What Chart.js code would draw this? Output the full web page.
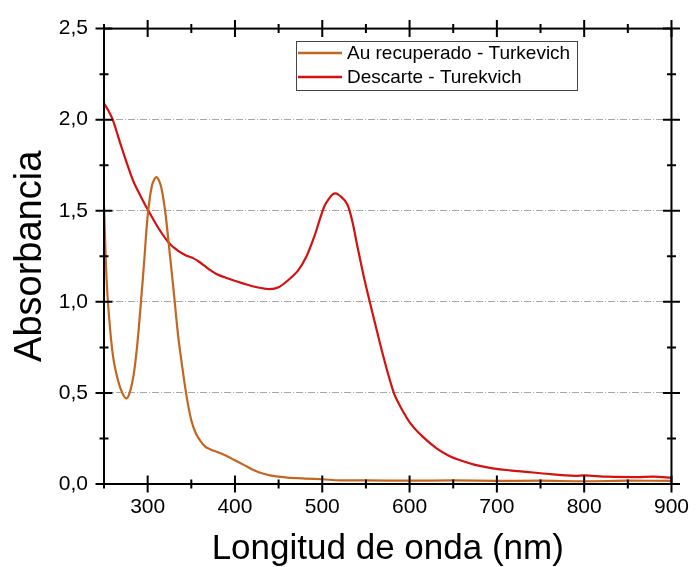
<!DOCTYPE html>
<html>
<head>
<meta charset="utf-8">
<script src="https://cdn.jsdelivr.net/npm/chart.js@4.4.1/dist/chart.umd.min.js"></script>
<style>
  html, body { margin: 0; padding: 0; background: #fff; }
  #wrap { width: 700px; height: 567px; }
</style>
</head>
<body>
<div id="wrap"><canvas id="c" width="700" height="567"></canvas></div>
<script>
// ---- data ----
const seriesNames = ['Au recuperado - Turkevich', 'Descarte - Turekvich'];
const seriesColors = ['#C4661F', '#D41010'];

const auWavelength = [250, 253, 257, 261, 266, 271, 276, 280, 284, 288, 292, 296, 300, 305, 310, 315, 320, 325, 330, 335, 340, 345, 350, 355, 360, 366, 372, 380, 390, 400, 410, 420, 430, 440, 450, 460, 480, 500, 520, 550, 600, 650, 700, 750, 800, 850, 900];
const auAbsorb     = [1.53, 1.12, 0.85, 0.68, 0.57, 0.50, 0.47, 0.51, 0.60, 0.76, 0.98, 1.22, 1.47, 1.64, 1.685, 1.64, 1.50, 1.28, 1.05, 0.81, 0.63, 0.47, 0.35, 0.28, 0.24, 0.205, 0.19, 0.175, 0.155, 0.13, 0.105, 0.08, 0.06, 0.047, 0.04, 0.035, 0.03, 0.026, 0.02, 0.02, 0.018, 0.02, 0.017, 0.018, 0.015, 0.018, 0.017];

const descWavelength = [250, 255, 260, 270, 283, 292, 302, 313, 325, 335, 344, 352, 359, 370, 380, 397, 410, 425, 440, 450, 460, 472, 482, 491, 497, 503, 509, 512, 515, 518, 522, 526, 530, 535, 540, 548, 557, 570, 582, 590, 601, 615, 631, 645, 658, 675, 695, 715, 733, 760, 790, 800, 827, 860, 880, 900];
const descAbsorb     = [2.09, 2.05, 2.00, 1.85, 1.67, 1.58, 1.49, 1.40, 1.32, 1.28, 1.255, 1.24, 1.22, 1.18, 1.15, 1.12, 1.10, 1.08, 1.07, 1.08, 1.115, 1.17, 1.25, 1.36, 1.45, 1.53, 1.575, 1.59, 1.595, 1.59, 1.575, 1.555, 1.52, 1.43, 1.31, 1.13, 0.95, 0.70, 0.50, 0.42, 0.333, 0.26, 0.196, 0.155, 0.13, 0.105, 0.086, 0.075, 0.067, 0.055, 0.045, 0.047, 0.04, 0.038, 0.04, 0.035];

const xMin = 250, xMax = 900, xStep = 50;
const yMin = 0, yMax = 2.5, yStep = 0.25;
const xTickLabels = ['300', '400', '500', '600', '700', '800', '900'];
const yTickLabels = ['0,0', '0,5', '1,0', '1,5', '2,0', '2,5'];

const toPoints = (xs, ys) => xs.map((x, i) => ({ x: x, y: ys[i] }));

const FONT = "'Liberation Sans', Arial, sans-serif";

// frame, ticks on all four sides, and legend box
const framePlugin = {
  id: 'frame',
  afterDraw(chart) {
    const { ctx, chartArea: a, scales } = chart;
    const xs = scales.x, ys = scales.y;
    ctx.save();
    ctx.strokeStyle = '#000';
    ctx.lineWidth = 2;
    ctx.lineCap = 'butt';
    ctx.strokeRect(a.left, a.top, a.right - a.left, a.bottom - a.top);
    const isMajX = v => Math.abs(v % 100) < 1e-6;
    const isMajY = v => Math.abs((v * 2) - Math.round(v * 2)) < 1e-6;
    ctx.beginPath();
    xs.ticks.forEach(t => {
      const px = xs.getPixelForValue(t.value);
      const h = isMajX(t.value) ? 8.5 : 4.5;
      ctx.moveTo(px, a.bottom - h); ctx.lineTo(px, a.bottom + h);
      ctx.moveTo(px, a.top - h); ctx.lineTo(px, a.top + h);
    });
    ys.ticks.forEach(t => {
      const py = ys.getPixelForValue(t.value);
      const h = isMajY(t.value) ? 8.5 : 4.5;
      ctx.moveTo(a.left - h, py); ctx.lineTo(a.left + h, py);
      ctx.moveTo(a.right - h, py); ctx.lineTo(a.right + h, py);
    });
    ctx.stroke();

    // legend
    const bx = 296.5, by = 41.5, bw = 281, bh = 49;
    ctx.fillStyle = '#fff';
    ctx.fillRect(bx, by, bw, bh);
    ctx.lineWidth = 1;
    ctx.strokeStyle = '#444';
    ctx.strokeRect(bx, by, bw, bh);
    const rows = [53, 77];
    chart.data.datasets.forEach((ds, i) => {
      ctx.strokeStyle = ds.borderColor;
      ctx.lineWidth = 2.5;
      ctx.beginPath();
      ctx.moveTo(298, rows[i]); ctx.lineTo(342, rows[i]);
      ctx.stroke();
      ctx.fillStyle = '#000';
      ctx.font = '19px ' + FONT;
      ctx.textAlign = 'left';
      ctx.textBaseline = 'middle';
      ctx.fillText(ds.label, 347, rows[i] + 1);
    });
    ctx.restore();
  }
};

new Chart(document.getElementById('c'), {
  type: 'line',
  data: {
    datasets: [
      { label: seriesNames[0], data: toPoints(auWavelength, auAbsorb), borderColor: seriesColors[0], borderWidth: 2.2, pointRadius: 0, tension: 0.3, fill: false },
      { label: seriesNames[1], data: toPoints(descWavelength, descAbsorb), borderColor: seriesColors[1], borderWidth: 2.2, pointRadius: 0, tension: 0.3, fill: false }
    ]
  },
  options: {
    responsive: false,
    animation: false,
    devicePixelRatio: 1,
    layout: { padding: { left: 0, right: 23, top: 28, bottom: 0 } },
    plugins: { legend: { display: false }, tooltip: { enabled: false } },
    scales: {
      x: {
        type: 'linear',
        min: xMin, max: xMax,
        afterFit: s => { s.height = 83; },
        ticks: {
          stepSize: xStep, autoSkip: false, maxRotation: 0, padding: 11,
          color: '#000', font: { family: FONT, size: 21 },
          callback: v => xTickLabels.includes(String(v)) ? String(v) : ''
        },
        grid: { display: false, drawTicks: false },
        border: { display: false },
        title: { display: true, text: 'Longitud de onda (nm)', color: '#000', font: { family: FONT, size: 35, lineHeight: 1 }, padding: { top: 0, bottom: 0 } }
      },
      y: {
        min: yMin, max: yMax,
        afterFit: s => { s.width = 104; },
        ticks: {
          stepSize: yStep, autoSkip: false, padding: 16,
          color: '#000', font: { family: FONT, size: 21 },
          callback: v => {
            const lbl = v.toFixed(1).replace('.', ',');
            return yTickLabels.includes(lbl) && Math.abs(v * 2 - Math.round(v * 2)) < 1e-6 ? lbl : '';
          }
        },
        grid: {
          drawTicks: false, lineWidth: 1,
          color: c => {
            const v = c.tick ? c.tick.value : 0;
            return (v > 0.01 && v < 2.49 && Math.abs(v * 2 - Math.round(v * 2)) < 1e-6) ? '#A8A8A8' : 'rgba(0,0,0,0)';
          }
        },
        border: { display: false, dash: [7, 2, 1, 2] },
        title: { display: true, text: 'Absorbancia', color: '#000', font: { family: FONT, size: 38, lineHeight: 1 }, padding: { top: 12, bottom: 0 } }
      }
    }
  },
  plugins: [framePlugin]
});
</script>
</body>
</html>
